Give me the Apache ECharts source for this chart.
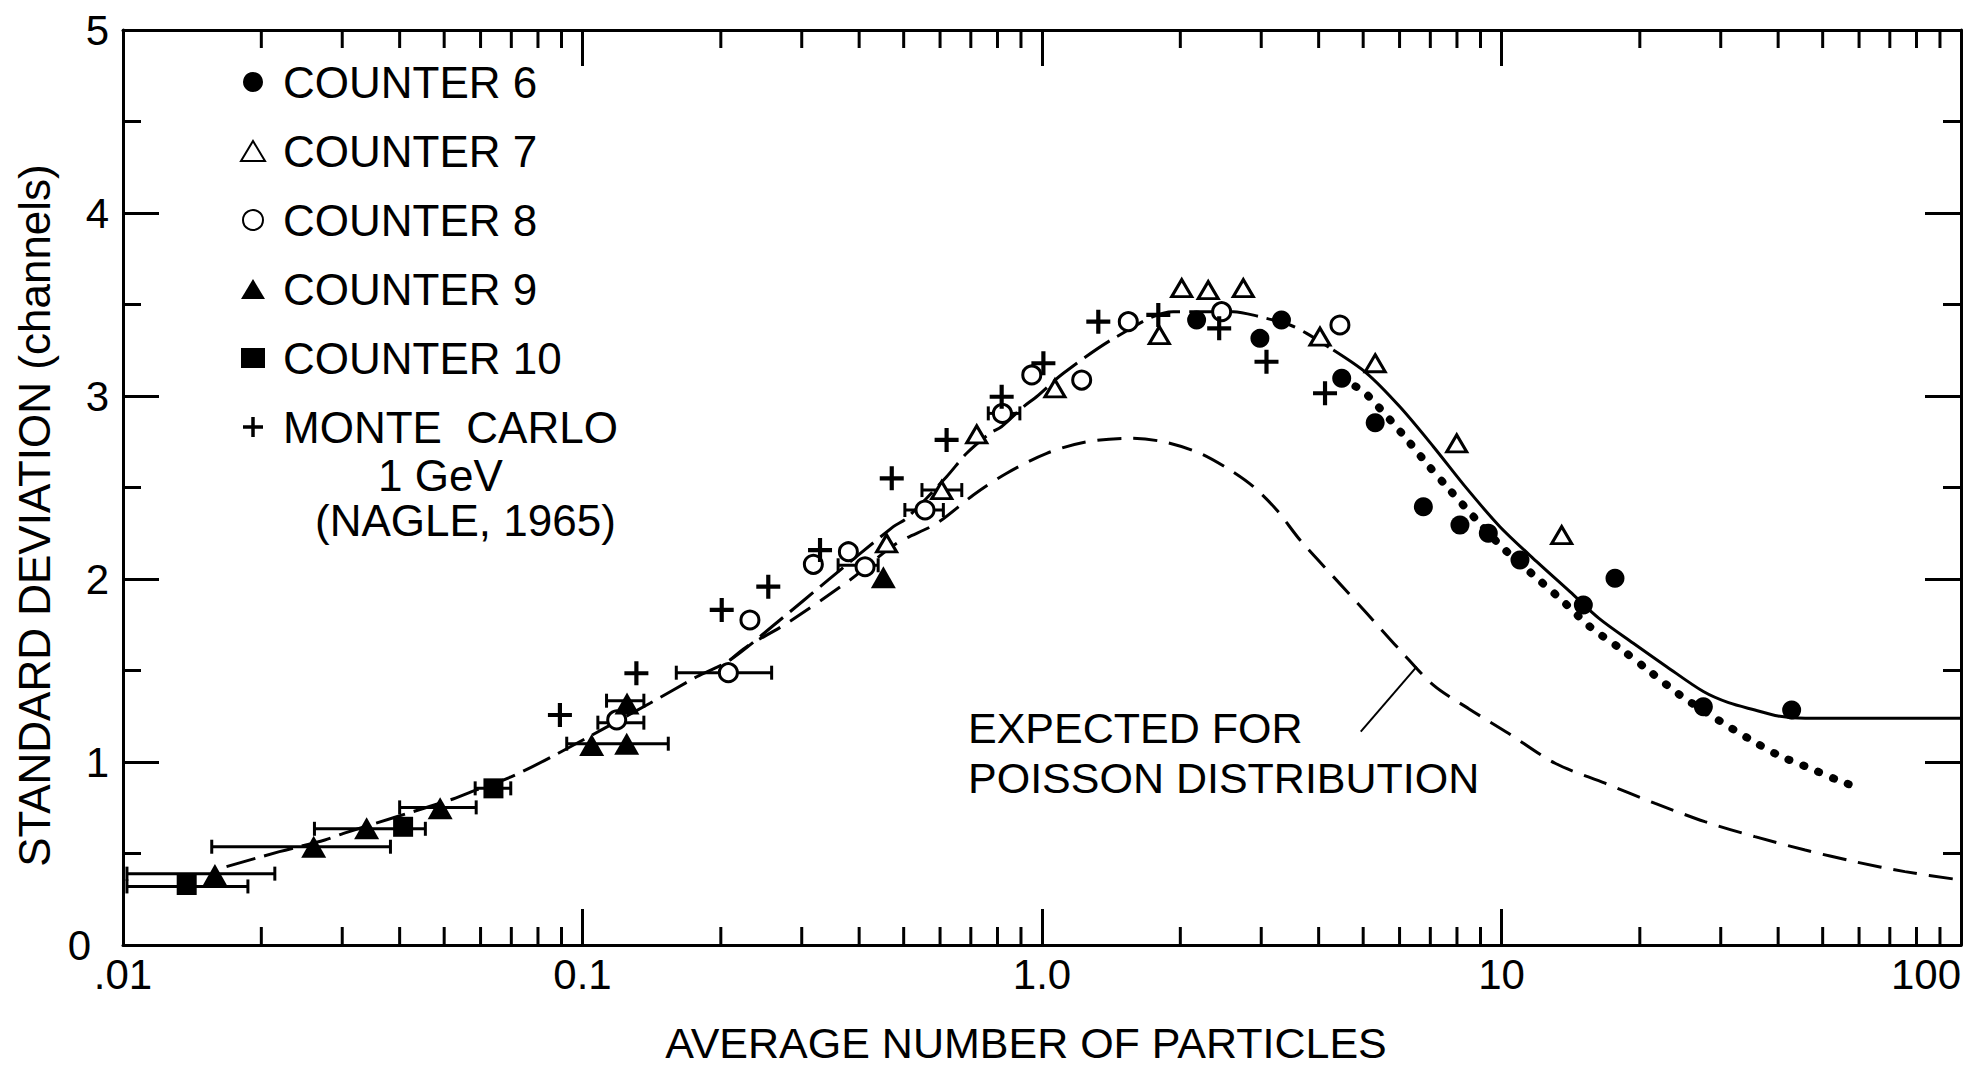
<!DOCTYPE html>
<html>
<head>
<meta charset="utf-8">
<script src="https://cdn.jsdelivr.net/npm/echarts@6/dist/echarts.min.js"></script>
<style>
  html, body { margin: 0; padding: 0; background: #fff; }
  #chart { width: 1975px; height: 1066px; }
</style>
</head>
<body>
<div id="chart"></div>
<script>
// ---- axis ticks -------------------------------------------------------
const xTickValues = [0.01, 0.1, 1, 10, 100];
const xTickLabels = ['.01', '0.1', '1.0', '10', '100'];
const xMinorTicks = [
  0.02, 0.03, 0.04, 0.05, 0.06, 0.07, 0.08, 0.09,
  0.2, 0.3, 0.4, 0.5, 0.6, 0.7, 0.8, 0.9,
  2, 3, 4, 5, 6, 7, 8, 9,
  20, 30, 40, 50, 60, 70, 80, 90
];

// ---- measured points: [average number of particles, std. deviation] ----
const counter6 = [[2.17, 3.415], [2.98, 3.315], [3.32, 3.415], [4.49, 3.097], [5.31, 2.854],
  [6.76, 2.395], [8.12, 2.295], [9.36, 2.25], [10.97, 2.104], [15.07, 1.858], [17.66, 2.004],
  [27.5, 1.302], [42.8, 1.284]];
const counter7 = [[0.459, 2.195], [0.605, 2.486], [0.721, 2.79], [1.067, 3.042], [1.80, 3.333],
  [2.014, 3.589], [2.30, 3.579], [2.742, 3.589], [4.027, 3.324], [5.31, 3.179], [7.99, 2.741],
  [13.52, 2.240]];
const counter8 = [[0.1187, 1.23], [0.2077, 1.488], [0.2314, 1.776], [0.318, 2.08], [0.379, 2.149],
  [0.412, 2.067], [0.5564, 2.377], [0.82, 2.905], [0.950, 3.115], [1.22, 3.087], [1.541, 3.406],
  [2.46, 3.461], [4.45, 3.388]];
const counter9 = [[0.01585, 0.383], [0.0260, 0.537], [0.0339, 0.638], [0.0490, 0.747],
  [0.1047, 1.093], [0.1248, 1.10], [0.125, 1.32], [0.4516, 2.01]];
const counter10 = [[0.01376, 0.328], [0.0407, 0.646], [0.0640, 0.856]];
const monteCarlo = [[0.0893, 1.257], [0.131, 1.485], [0.2009, 1.831], [0.2537, 1.958],
  [0.3288, 2.158], [0.471, 2.55], [0.620, 2.76], [0.817, 2.996], [1.007, 3.179], [1.326, 3.406],
  [1.791, 3.443], [2.43, 3.37], [3.08, 3.187], [4.13, 3.015]];

// horizontal error bars: [low, high, std. deviation]
const errorBars = [[0.0102, 0.0187, 0.32], [0.0102, 0.0214, 0.39], [0.0156, 0.0382, 0.537],
  [0.0261, 0.0455, 0.635], [0.0400, 0.0587, 0.752], [0.0584, 0.0698, 0.856],
  [0.0924, 0.1537, 1.10], [0.108, 0.136, 1.215], [0.1128, 0.136, 1.335], [0.160, 0.258, 1.488],
  [0.36, 0.44, 2.075], [0.503, 0.61, 2.377], [0.548, 0.669, 2.486], [0.764, 0.895, 2.905]];

// ---- curves -----------------------------------------------------------
const trendLow = [[0.0168, 0.428], [0.0219, 0.51], [0.0275, 0.574], [0.0302, 0.61], [0.0514, 0.792],
  [0.0574, 0.838], [0.0701, 0.92], [0.0886, 1.048], [0.1402, 1.321], [0.1773, 1.466],
  [0.2094, 1.557], [0.269, 1.776], [0.3427, 1.995], [0.4748, 2.286], [0.5076, 2.332],
  [0.62, 2.559], [0.6856, 2.687], [0.77, 2.796], [0.816, 2.832], [0.911, 2.941], [0.973, 2.996],
  [1.113, 3.124], [1.454, 3.324], [1.931, 3.461], [2.609, 3.461], [2.98, 3.433], [3.465, 3.388],
  [3.767, 3.342], [4.305, 3.251]];
const trendHigh = [[4.305, 3.251], [5.09, 3.124], [6.01, 2.941], [7.11, 2.723], [8.40, 2.495],
  [9.92, 2.286], [11.93, 2.095], [14.09, 1.931], [16.3, 1.785], [19.36, 1.649], [22.88, 1.521],
  [27.5, 1.385], [31.2, 1.324], [35.6, 1.284], [40.0, 1.251], [45.8, 1.239], [100, 1.239]];
const dottedFit = [[4.49, 3.097], [5.005, 3.024], [5.35, 2.951], [6.07, 2.796], [6.87, 2.632],
  [7.72, 2.486], [8.83, 2.322], [10.0, 2.177], [11.73, 2.022], [13.52, 1.885], [15.58, 1.739],
  [18.11, 1.621], [21.05, 1.494], [24.46, 1.366], [29.6, 1.23], [34.4, 1.13], [40.0, 1.038],
  [46.9, 0.966], [55.0, 0.892], [59.3, 0.865]];
const poisson = [[0.2094, 1.557], [0.2277, 1.63], [0.278, 1.757], [0.382, 1.995], [0.483, 2.195],
  [0.59, 2.304], [0.709, 2.459], [0.838, 2.578], [1.024, 2.687], [1.251, 2.75], [1.554, 2.769],
  [1.837, 2.75], [2.208, 2.687], [2.566, 2.596], [2.884, 2.505], [3.242, 2.377], [3.644, 2.213],
  [4.305, 2.013], [5.09, 1.813], [6.01, 1.612], [7.11, 1.42], [8.5, 1.29], [10.35, 1.157],
  [13.08, 0.993], [16.8, 0.884], [21.6, 0.774], [27.7, 0.674], [35.6, 0.592], [45.8, 0.519],
  [58.8, 0.455], [75.5, 0.401], [100, 0.355]];
const poissonArrow = [[4.94, 1.166], [6.54, 1.521]];

// ---- drawing ----------------------------------------------------------
const FONT = "'Liberation Sans', Arial, sans-serif";
const INK = '#000';
const PLUS = 'path://M9.5,0H13.5V9.5H23V13.5H13.5V23H9.5V13.5H0V9.5H9.5Z';

const chart = echarts.init(document.getElementById('chart'), null, { renderer: 'svg' });

function tickLabel(v) {
  const i = xTickValues.findIndex(t => Math.abs(Math.log10(t) - Math.log10(v)) < 1e-6);
  return i >= 0 ? xTickLabels[i] : '';
}
// the "0" at the corner is nudged left so it clears the ".01" below it
function yTickLabel(v) {
  return v === 0 ? '{corner|0}' : String(v);
}

const axisLineStyle = () => ({ show: true, onZero: false, lineStyle: { color: INK, width: 3 } });
const logAxis = (pos, withLabels) => ({
  type: 'log', logBase: 10, min: 0.01, max: 100, position: pos,
  axisLine: axisLineStyle(), splitLine: { show: false },
  axisTick: { show: true, inside: true, length: 36, lineStyle: { color: INK, width: 3 } },
  axisLabel: withLabels
    ? { show: true, formatter: tickLabel, fontSize: 42, fontFamily: FONT, color: INK,
        margin: 12, lineHeight: 34, showMinLabel: true, showMaxLabel: true,
        alignMaxLabel: 'right', hideOverlap: false }
    : { show: false }
});
const valueAxis = (pos, withLabels) => ({
  type: 'value', min: 0, max: 5, interval: 1, position: pos,
  axisLine: axisLineStyle(), splitLine: { show: false },
  axisTick: { show: true, inside: true, length: 36, lineStyle: { color: INK, width: 3 } },
  minorTick: { show: true, splitNumber: 2, length: 18, lineStyle: { color: INK, width: 3 } },
  axisLabel: withLabels
    ? { show: true, formatter: yTickLabel, fontSize: 42, fontFamily: FONT, color: INK,
        margin: 14, lineHeight: 24,
        rich: { corner: { fontSize: 42, fontFamily: FONT, color: INK, lineHeight: 24,
                          padding: [0, 18, 0, 0] } } }
    : { show: false }
});

const xBottom = logAxis('bottom', true);
Object.assign(xBottom, {
  name: 'AVERAGE NUMBER OF PARTICLES', nameLocation: 'middle', nameGap: 76,
  nameTextStyle: { fontSize: 43, fontFamily: FONT, color: INK, padding: [0, 32, 0, 0] }
});
const yLeft = valueAxis('left', true);
Object.assign(yLeft, {
  name: 'STANDARD DEVIATION (channels)', nameLocation: 'middle', nameGap: 67,
  nameTextStyle: { fontSize: 44, fontFamily: FONT, color: INK, padding: [0, 56, 0, 0] }
});

const markerSeries = (name, data, symbol, size, open) => ({
  name, type: 'scatter', data, symbol, symbolSize: size, z: 5,
  itemStyle: open
    ? { color: '#fff', borderColor: INK, borderWidth: 3, opacity: 1 }
    : { color: INK, borderWidth: 0, opacity: 1 },
  emphasis: { disabled: true }
});
const curve = (data, lineStyle, smooth) => ({
  type: 'line', data, showSymbol: false, symbol: 'none', smooth, z: 2, silent: true,
  lineStyle: Object.assign({ color: INK, opacity: 1 }, lineStyle)
});

const option = {
  animation: false,
  backgroundColor: '#fff',
  grid: { left: 123, right: 14, top: 30, bottom: 121, outerBoundsMode: 'none' },
  xAxis: [xBottom, logAxis('top', false)],
  yAxis: [yLeft, valueAxis('right', false)],
  legend: {
    orient: 'vertical', left: 240, top: 57, padding: 0,
    itemWidth: 24, itemHeight: 20, itemGap: 19, selectedMode: false,
    textStyle: { fontSize: 44, fontFamily: FONT, color: INK, lineHeight: 50, padding: [0, 0, 0, 13] },
    data: ['COUNTER 6', 'COUNTER 7', 'COUNTER 8', 'COUNTER 9', 'COUNTER 10', 'MONTE  CARLO']
  },
  graphic: [
    { type: 'text', left: 378, top: 453, style: { text: '1 GeV', font: '44px ' + FONT, fill: INK } },
    { type: 'text', left: 315, top: 498, style: { text: '(NAGLE, 1965)', font: '44px ' + FONT, fill: INK } },
    { type: 'text', left: 968, top: 706, style: { text: 'EXPECTED FOR', font: '43px ' + FONT, fill: INK } },
    { type: 'text', left: 968, top: 756, style: { text: 'POISSON DISTRIBUTION', font: '43px ' + FONT, fill: INK } }
  ],
  series: [
    // minor ticks of the logarithmic axes (bottom and top)
    {
      type: 'custom', silent: true, clip: false, z: 6,
      data: xMinorTicks.map(v => [v, 0]), encode: { x: 0, y: 1 },
      renderItem: (params, api) => {
        const v = api.value(0);
        const b = api.coord([v, 0]);
        const t = api.coord([v, 5]);
        const st = { stroke: INK, lineWidth: 3 };
        return { type: 'group', children: [
          { type: 'line', shape: { x1: b[0], y1: b[1], x2: b[0], y2: b[1] - 18 }, style: st },
          { type: 'line', shape: { x1: t[0], y1: t[1], x2: t[0], y2: t[1] + 18 }, style: st }
        ] };
      }
    },
    curve(poisson, { type: [24, 12], width: 3 }, 0.3),
    curve(trendLow, { type: [30, 9], width: 3 }, 0.3),
    curve(trendHigh, { type: 'solid', width: 3 }, 0.3),
    curve(dottedFit, { type: [1, 15], width: 8, cap: 'round' }, 0.3),
    // arrow pointing at the Poisson curve
    {
      type: 'line', data: [], silent: true,
      markLine: {
        silent: true, symbol: ['none', 'arrow'], symbolSize: [0, 14], animation: false,
        label: { show: false },
        lineStyle: { color: INK, width: 2, type: 'solid', opacity: 1 },
        data: [[{ coord: poissonArrow[0] }, { coord: poissonArrow[1] }]]
      }
    },
    // horizontal error bars
    {
      type: 'custom', silent: true, z: 3,
      data: errorBars, encode: { x: [0, 1], y: 2 },
      renderItem: (params, api) => {
        const lo = api.coord([api.value(0), api.value(2)]);
        const hi = api.coord([api.value(1), api.value(2)]);
        const st = { stroke: INK, lineWidth: 3 };
        const c = 7;
        return { type: 'group', children: [
          { type: 'line', shape: { x1: lo[0], y1: lo[1], x2: hi[0], y2: hi[1] }, style: st },
          { type: 'line', shape: { x1: lo[0], y1: lo[1] - c, x2: lo[0], y2: lo[1] + c }, style: st },
          { type: 'line', shape: { x1: hi[0], y1: hi[1] - c, x2: hi[0], y2: hi[1] + c }, style: st }
        ] };
      }
    },
    markerSeries('COUNTER 6', counter6, 'circle', 19, false),
    markerSeries('COUNTER 7', counter7, 'triangle', [20, 17], true),
    markerSeries('COUNTER 8', counter8, 'circle', 18, true),
    markerSeries('COUNTER 9', counter9, 'triangle', [25, 22], false),
    markerSeries('COUNTER 10', counter10, 'rect', 20, false),
    markerSeries('MONTE  CARLO', monteCarlo, PLUS, 24, false)
  ]
};

chart.setOption(option);
</script>
</body>
</html>
